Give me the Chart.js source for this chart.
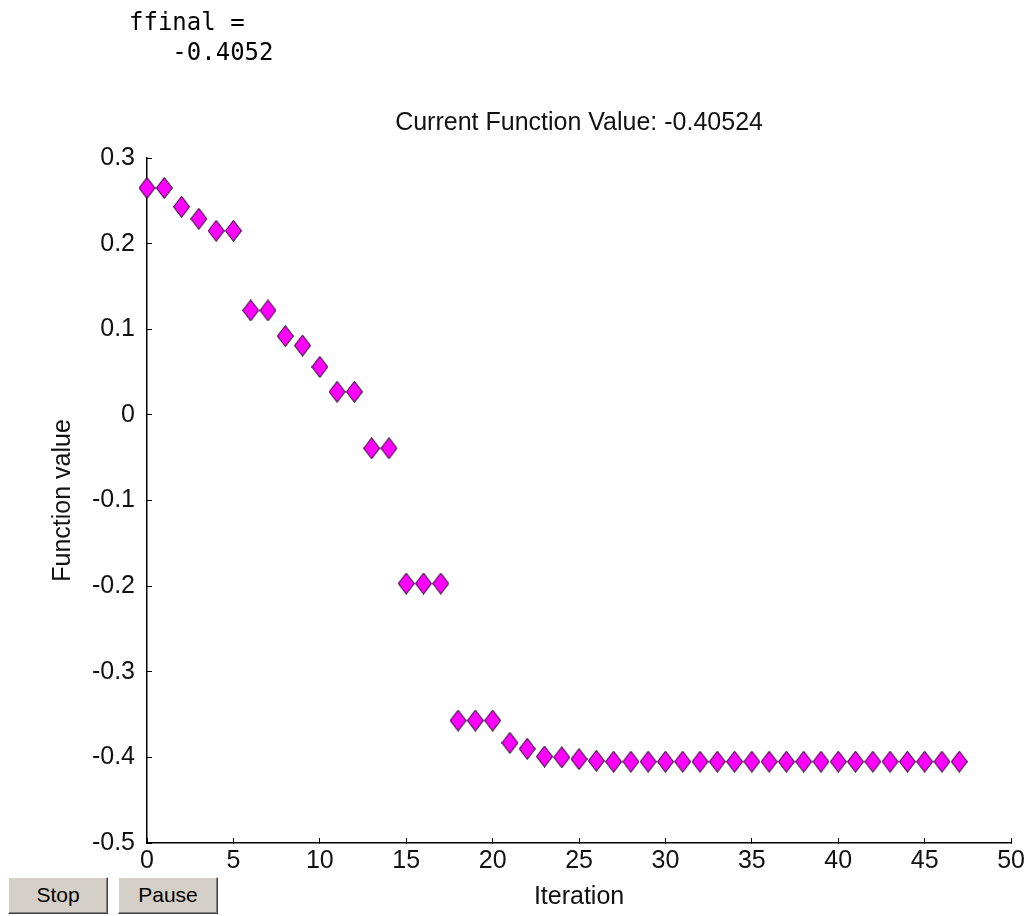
<!DOCTYPE html>
<html><head><meta charset="utf-8">
<script src="https://cdn.jsdelivr.net/npm/chart.js@4"></script>
<style>
html,body{margin:0;padding:0;background:#fff;width:1033px;height:916px;overflow:hidden;}
#wrap{position:relative;width:1033px;height:916px;}
#c{position:absolute;left:0;top:0;}
#out{position:absolute;left:129px;top:7px;margin:0;font-family:"DejaVu Sans Mono",monospace;font-size:24px;line-height:30px;color:#000;}
.btn{position:absolute;top:877px;height:37px;width:100px;background:#d4d0c8;box-sizing:border-box;border-top:1px solid #fff;border-left:1px solid #fff;border-right:1px solid #404040;border-bottom:1px solid #404040;box-shadow:inset -1px -1px 0 #808080;font-family:"Liberation Sans",Arial,sans-serif;font-size:21px;color:#000;text-align:center;line-height:34px;}
</style></head>
<body>
<div id="wrap">
<canvas id="c" width="1033" height="916"></canvas>
<pre id="out">ffinal =
   -0.4052</pre>
<div class="btn" style="left:8px;">Stop</div>
<div class="btn" style="left:118px;">Pause</div>
</div>
<script>
const iterations = [0,1,2,3,4,5,6,7,8,9,10,11,12,13,14,15,16,17,18,19,20,21,22,23,24,25,26,27,28,29,30,31,32,33,34,35,36,37,38,39,40,41,42,43,44,45,46,47];
const fvals = [0.265,0.265,0.243,0.229,0.215,0.215,0.122,0.122,0.092,0.081,0.056,0.027,0.027,-0.039,-0.039,-0.197,-0.197,-0.197,-0.357,-0.357,-0.357,-0.383,-0.390,-0.399,-0.400,-0.402,-0.404,-0.405,-0.405,-0.405,-0.405,-0.405,-0.405,-0.405,-0.405,-0.405,-0.405,-0.405,-0.405,-0.405,-0.405,-0.405,-0.405,-0.405,-0.405,-0.405,-0.405,-0.405];
const xTickValues = [0,5,10,15,20,25,30,35,40,45,50];
const xTickLabels = ['0','5','10','15','20','25','30','35','40','45','50'];
const yTickValues = [-0.5,-0.4,-0.3,-0.2,-0.1,0,0.1,0.2,0.3];
const yTickLabels = ['-0.5','-0.4','-0.3','-0.2','-0.1','0','0.1','0.2','0.3'];
const titleText = 'Current Function Value: -0.40524';
const xTitle = 'Iteration';
const yTitle = 'Function value';

function makeDiamond(){
  const w = 17, h = 22;
  const cv = document.createElement('canvas');
  cv.width = w; cv.height = h;
  const g = cv.getContext('2d');
  g.beginPath();
  g.moveTo(w/2, 0.5);
  g.lineTo(w-0.5, h/2);
  g.lineTo(w/2, h-0.5);
  g.lineTo(0.5, h/2);
  g.closePath();
  g.fillStyle = '#ff00ff';
  g.fill();
  g.lineWidth = 1;
  g.strokeStyle = '#000';
  g.stroke();
  return cv;
}

const FONT = {family: '"Liberation Sans", Arial, sans-serif', size: 25, weight: 'normal', lineHeight: 1.2};

new Chart(document.getElementById('c'), {
  type: 'scatter',
  data: {
    datasets: [{
      data: iterations.map((x, i) => ({x: x, y: fvals[i]})),
      pointStyle: makeDiamond(),
      pointRadius: 9,
      showLine: false,
      clip: false
    }]
  },
  options: {
    responsive: false,
    animation: false,
    layout: {padding: {left: 0, right: 18, top: 0, bottom: 0}},
    plugins: {
      legend: {display: false},
      tooltip: {enabled: false},
      title: {
        display: true, text: titleText, fullSize: false, color: '#111',
        font: FONT, padding: {top: 108, bottom: 20}
      }
    },
    scales: {
      x: {
        type: 'linear', min: 0, max: 50,
        afterBuildTicks: s => { s.ticks = xTickValues.map(v => ({value: v})); },
        afterFit: s => { s.height = 73; },
        ticks: {callback: (v, i) => xTickLabels[i], autoSkip: false, maxRotation: 0, color: '#111', font: FONT, padding: 8},
        grid: {drawOnChartArea: false, drawTicks: true, tickLength: -5, color: '#000', tickColor: '#000', lineWidth: 1},
        border: {display: true, color: '#000', width: 1.5},
        title: {display: true, text: xTitle, color: '#111', font: FONT, padding: {top: 0, bottom: 4}}
      },
      y: {
        type: 'linear', min: -0.5, max: 0.3,
        afterBuildTicks: s => { s.ticks = yTickValues.map(v => ({value: v})); },
        afterFit: s => { s.width = 147; },
        ticks: {callback: (v, i) => yTickLabels[i], autoSkip: false, color: '#111', font: FONT, padding: 17},
        grid: {drawOnChartArea: false, drawTicks: true, tickLength: -5, color: '#000', tickColor: '#000', lineWidth: 1},
        border: {display: true, color: '#000', width: 1.5},
        title: {display: true, text: yTitle, color: '#111', font: FONT, padding: {top: 48, bottom: 0}}
      }
    }
  }
});
</script>
</body></html>
